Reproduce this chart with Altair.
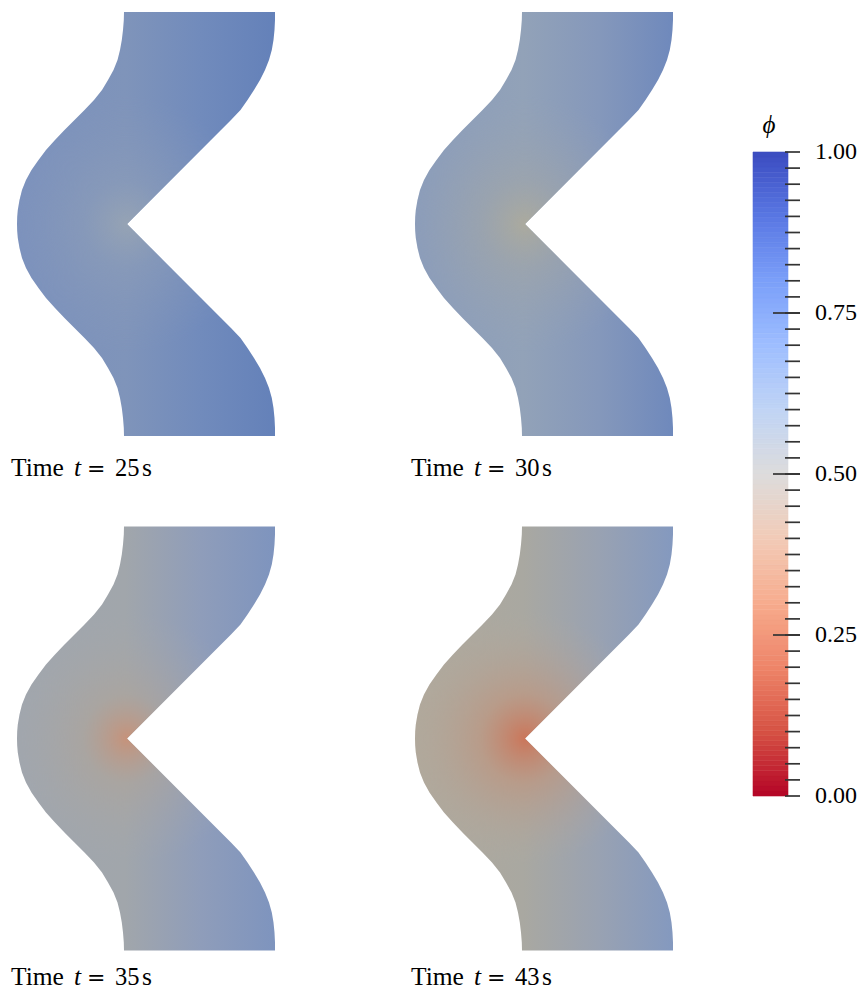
import altair as alt
import pandas as pd

# ---------------------------------------------------------------
# Outline of the channel (pixels)
# ---------------------------------------------------------------
edge_y = [12, 20, 30, 40, 50, 60, 70, 80, 90, 100, 110, 120, 130, 140, 150,
          160, 170, 180, 190, 200, 210, 217, 224,
          231, 238, 248, 258, 268, 278, 288, 298, 308, 318, 328, 338, 348,
          358, 368, 378, 388, 398, 408, 418, 428, 436]
edge_left = [124, 123.8, 123, 121.8, 120, 117.5, 113.5, 108, 102, 94, 84.5,
             74.5, 64.5, 55, 46, 38.5, 31.5, 26, 22, 19.5, 17.8, 17.2, 17,
             17.2, 17.8, 19.5, 22, 26, 31.5, 38.5, 46, 55, 64.5, 74.5, 84.5,
             94, 102, 108, 113.5, 117.5, 120, 121.8, 123, 123.8, 124]
edge_right = [275, 275, 274.5, 273.5, 271.8, 269, 265, 260, 254, 247.5, 240.5,
              231, 221, 211, 201, 191, 181, 171, 161, 151, 141, 134, 127,
              134, 141, 151, 161, 171, 181, 191, 201, 211, 221, 231, 240.5,
              247.5, 254, 260, 265, 269, 271.8, 273.5, 274.5, 275, 275]

times = [25, 30, 35, 43]

# colours of the field
base_colors = {
    25: ["#7b91bd", "#7f94ba", "#718bbc", "#6481b9"],
    30: ["#8a9cbb", "#92a2b8", "#8598bb", "#6f89bc"],
    35: ["#a0a6ae", "#a1a6ab", "#8f9dba", "#7e94be"],
    43: ["#b0a99c", "#a9a8a1", "#99a2b2", "#8499bf"],
}
base_offsets = [0.0, 0.42, 0.71, 1.0]

glow_colors = {
    25: ["rgba(150,163,180,1)", "rgba(142,158,184,0.5)", "rgba(135,152,186,0)"],
    30: ["rgba(171,170,158,1)", "rgba(160,165,168,0.6)", "rgba(150,162,180,0)"],
    35: ["rgba(198,146,122,1)", "rgba(176,164,152,0.55)", "rgba(165,168,172,0)"],
    43: ["rgba(203,118,90,1)", "rgba(190,150,128,0.7)", "rgba(178,170,158,0)"],
}
glow_offsets = [0.0, 0.35, 1.0]

# colour map of phi (cool to warm), phi = 0 ... 1
cmap_values = [0.0, 0.1, 0.2, 0.3, 0.4, 0.5, 0.6, 0.7, 0.8, 0.9, 1.0]
cmap_colors = ["#b40426", "#d65244", "#ee8468", "#f7ac8e", "#f2cbb7", "#dddcdc",
               "#c0d4f5", "#9ebeff", "#7b9ff9", "#5977e3", "#3b4cc0"]

label_ticks = [0.0, 0.25, 0.5, 0.75, 1.0]
long_ticks = [0.25, 0.5, 0.75]
minor_ticks = [i / 40 for i in range(41)]
n_bands = 128

# ---------------------------------------------------------------
# layout
# ---------------------------------------------------------------
shift_x = [0, 398, 0, 398]
shift_y = [0, 0, 514.5, 514.5]
label_x = [11, 411, 11, 411]
label_y = [476, 476, 985, 985]

rows = []
for p in range(4):
    for k in range(len(edge_y)):
        rows.append(dict(panel=p, k=k,
                         y=edge_y[k] + shift_y[p],
                         xl=edge_left[k] + shift_x[p],
                         xr=edge_right[k] + shift_x[p]))
shape = pd.DataFrame(rows)

xs = alt.Scale(domain=[8, 748], nice=False, zero=False)
ys = alt.Scale(domain=[8, 985], nice=False, zero=False, reverse=True)

# centre of the notch in the bounding box of the shape (radial gradient units)
bx0, bx1 = min(edge_left), max(edge_right)
by0, by1 = min(edge_y), max(edge_y)
S = max(bx1 - bx0, by1 - by0)
cu = 0.5 + (127 - (bx0 + bx1) / 2) / S
cv = 0.5 + (224 - (by0 + by1) / 2) / S


def area(p, fill):
    return alt.Chart(shape).transform_filter(alt.datum.panel == p).mark_area(
        orient="horizontal", interpolate="linear", fill=fill,
        strokeWidth=0, fillOpacity=1
    ).encode(
        y=alt.Y("y:Q", scale=ys, axis=None),
        x=alt.X("xl:Q", scale=xs, axis=None, stack=None),
        x2="xr:Q",
    )


layers = []
for p, t in enumerate(times):
    lin = alt.LinearGradient(
        gradient="linear", x1=0, y1=0, x2=1, y2=0,
        stops=[alt.GradientStop(offset=o, color=c)
               for o, c in zip(base_offsets, base_colors[t])])
    rad = alt.RadialGradient(
        gradient="radial", x1=cu, y1=cv, r1=0, x2=cu, y2=cv, r2=0.3,
        stops=[alt.GradientStop(offset=o, color=c)
               for o, c in zip(glow_offsets, glow_colors[t])])
    layers.append(area(p, lin))
    layers.append(area(p, rad))

labels = pd.DataFrame({"time": times, "lx": label_x, "ly": label_y})


def piece(text, dx, italic=False, font="Liberation Serif", size=25.5):
    return alt.Chart(labels).mark_text(
        align="left", baseline="alphabetic", dx=dx, font=font, fontSize=size,
        fontStyle="italic" if italic else "normal", color="#000000"
    ).encode(
        x=alt.X("lx:Q", scale=xs, axis=None),
        y=alt.Y("ly:Q", scale=ys, axis=None),
        text=text,
    )


layers += [
    piece(alt.value("Time"), 0),
    piece(alt.value("t"), 63, italic=True),
    piece(alt.value("="), 76, font="DejaVu Serif", size=22),
    piece(alt.Text("time:N"), 104, size=24.5),
    piece(alt.value("s"), 131),
]

panels = alt.layer(*layers).properties(width=740, height=977)

# ---------------------------------------------------------------
# colour bar
# ---------------------------------------------------------------
bands = pd.DataFrame({
    "lo": [i / n_bands for i in range(n_bands)],
    "hi": [(i + 1) / n_bands for i in range(n_bands)],
})
bands["mid"] = (bands["lo"] + bands["hi"]) / 2

phi_scale = alt.Scale(domain=[0, 1], range=[788, 144], nice=False, zero=False)
cscale = alt.Scale(domain=cmap_values, range=cmap_colors, interpolate="rgb")

bar = alt.Chart(bands).mark_rect(strokeWidth=0.6).encode(
    y=alt.Y("lo:Q", scale=phi_scale, axis=None),
    y2="hi:Q",
    x=alt.value(5),
    x2=alt.value(40),
    color=alt.Color("mid:Q", scale=cscale, legend=None),
    stroke=alt.Stroke("mid:Q", scale=cscale, legend=None),
)

minor = alt.Chart(pd.DataFrame({"phi": minor_ticks})).mark_rule(
    color="#333333", strokeWidth=1.7
).encode(y=alt.Y("phi:Q", scale=phi_scale, axis=None),
         x=alt.value(37), x2=alt.value(52))

major = alt.Chart(pd.DataFrame({"phi": long_ticks})).mark_rule(
    color="#333333", strokeWidth=1.7
).encode(y=alt.Y("phi:Q", scale=phi_scale, axis=None),
         x=alt.value(25), x2=alt.value(52))

tick_labels = alt.Chart(pd.DataFrame({"phi": label_ticks})).mark_text(
    align="left", baseline="middle", font="Liberation Serif", fontSize=24,
    color="#000000"
).encode(y=alt.Y("phi:Q", scale=phi_scale, axis=None),
         x=alt.value(67),
         text=alt.Text("phi:Q", format=".2f"))

title = alt.Chart(pd.DataFrame({"t": ["ϕ"]})).mark_text(
    align="center", baseline="middle", font="Liberation Serif", fontSize=25,
    fontStyle="italic", color="#000000"
).encode(x=alt.value(21), y=alt.value(117), text="t:N")

cbar = alt.layer(bar, minor, major, tick_labels, title).properties(
    width=109, height=977)

chart = alt.hconcat(panels, cbar, spacing=0).properties(
    padding=0
).configure_view(stroke=None)

chart.save("out.html", embed_options={"renderer": "svg", "actions": False})
